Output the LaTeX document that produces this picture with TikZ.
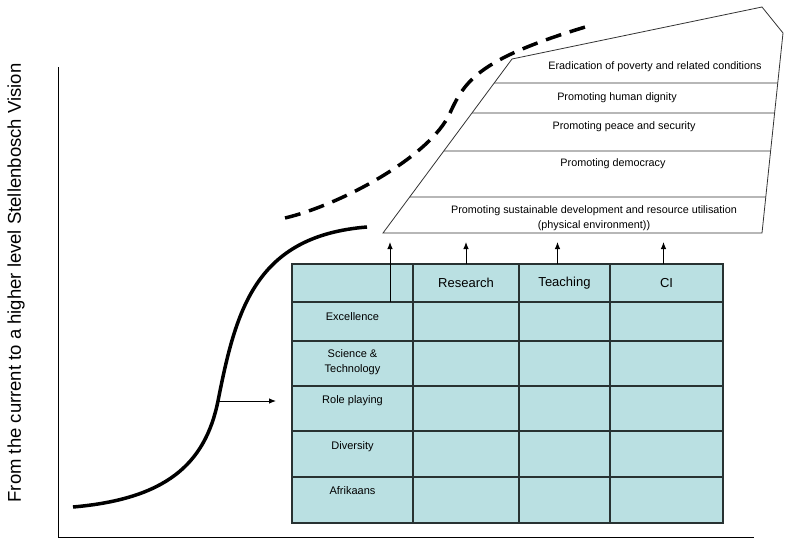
\documentclass[tikz,border=0pt]{standalone}
\usepackage{fontspec}
\setmainfont{Liberation Sans}
\usetikzlibrary{positioning,calc,arrows.meta}
\definecolor{cellfill}{RGB}{186,224,226}
\definecolor{gridline}{RGB}{40,50,50}

\begin{document}
\begin{tikzpicture}[x=1pt, y=-1pt, node distance=0pt,
CellStyle/.style={draw=gridline, fill=cellfill, line width=1.1pt,
                minimum height=38pt, outer sep=0pt, inner sep=0pt},
HeadText/.style={font=\fontsize{13}{15}\selectfont},
RowText/.style={font=\fontsize{11}{15.5}\selectfont, align=center, inner sep=0pt},
TierText/.style={font=\fontsize{10.8}{15}\selectfont, align=center, inner sep=0pt},
TierLine/.style={draw=black!80, line width=0.8pt},
CurveStyle/.style={line width=3.5pt},
ArrowStyle/.style={-{Latex[length=7pt, width=5.5pt]}, line width=0.9pt},]
\useasboundingbox (0,0) rectangle (787,538);

% axes and label
\draw[line width=1pt] (58,67) -- (58,537) -- (754,537);
\node[rotate=90, font=\fontsize{18.5}{20}\selectfont] (vision) at (16,283)
    {From the current to a higher level Stellenbosch Vision};

% table
\node [CellStyle, minimum width=121pt, anchor=north west] (corner) at (292,264) {};
\node [CellStyle, HeadText, minimum width=106pt, right=of corner] (research) {Research};
\node [CellStyle, HeadText, minimum width=91pt, right=of research] (teaching) {Teaching};
\node [CellStyle, HeadText, minimum width=113pt, right=of teaching] (ci) {CI};
\foreach \row/\rowh/\prevrow in {excel/39/corner, science/45/excel, role/45/science,
                                diversity/46/role, afrik/46/diversity}{
  \node [CellStyle, minimum width=121pt, minimum height=\rowh pt, below=of \prevrow] (\row) {};
  \node [CellStyle, minimum width=106pt, minimum height=\rowh pt, right=of \row] (\row-r) {};
  \node [CellStyle, minimum width=91pt, minimum height=\rowh pt, right=of \row-r] (\row-t) {};
  \node [CellStyle, minimum width=113pt, minimum height=\rowh pt, right=of \row-t] (\row-c) {};
}
\node [RowText] (excelText) at ([yshift=-15pt]excel.north) {Excellence};
\node [RowText] (scienceText) at ([yshift=-21pt]science.north) {Science \&\\Technology};
\node [RowText] (roleText) at ([yshift=-15pt]role.north) {Role playing};
\node [RowText] (diversityText) at ([yshift=-16pt]diversity.north) {Diversity};
\node [RowText] (afrikText) at ([yshift=-14pt]afrik.north) {Afrikaans};

% values
\coordinate (tl) at (512,59);
\coordinate (tr) at (762,7);
\coordinate (notch) at (783,33);
\coordinate (br) at (762,233);
\coordinate (bl) at (383,233);
\draw[TierLine] (tl) -- (tr) -- (notch) -- (br) -- (bl) -- cycle;
\draw[TierLine] ($(tl)!0.138!(bl)$) -- ($(notch)!0.25!(br)$);
\draw[TierLine] ($(tl)!0.310!(bl)$) -- ($(notch)!0.40!(br)$);
\draw[TierLine] ($(tl)!0.529!(bl)$) -- ($(notch)!0.59!(br)$);
\draw[TierLine] ($(tl)!0.793!(bl)$) -- ($(notch)!0.82!(br)$);
\node [TierText] (poverty) at (655,67) {Eradication of poverty and related conditions};
\node [TierText] (dignity) at (617,98) {Promoting human dignity};
\node [TierText] (peace) at (624,127) {Promoting peace and security};
\node [TierText] (democracy) at (613,164) {Promoting democracy};
\node [TierText] (sustain) at (594,218)
    {Promoting sustainable development and resource utilisation\\(physical environment))};

% arrows up
\coordinate (tipRow) at (0,242);
\draw[ArrowStyle] ([xshift=-23pt]corner.south east) -- ([xshift=-23pt]corner.south east |- tipRow);
\draw[ArrowStyle] (research.north) -- (research.north |- tipRow);
\draw[ArrowStyle] ([xshift=-7pt]teaching.north) -- ([xshift=-7pt]teaching.north |- tipRow);
\draw[ArrowStyle] ([xshift=-3pt]ci.north) -- ([xshift=-3pt]ci.north |- tipRow);

% curves
\draw[CurveStyle] (73,507) .. controls (165,499) and (205,465) .. (218,401)
    .. controls (236,310) and (255,236) .. (367,227);
\draw[CurveStyle, dash pattern=on 16pt off 9pt] (285,218) .. controls (340,205) and (430,157)
    .. (450,113) .. controls (465,80) and (480,58) .. (592,25);
\coordinate (bend) at (218,401);
\coordinate (bendTip) at (276,401);
\draw[ArrowStyle] (bend) -- (bendTip);
\end{tikzpicture}
\end{document}
